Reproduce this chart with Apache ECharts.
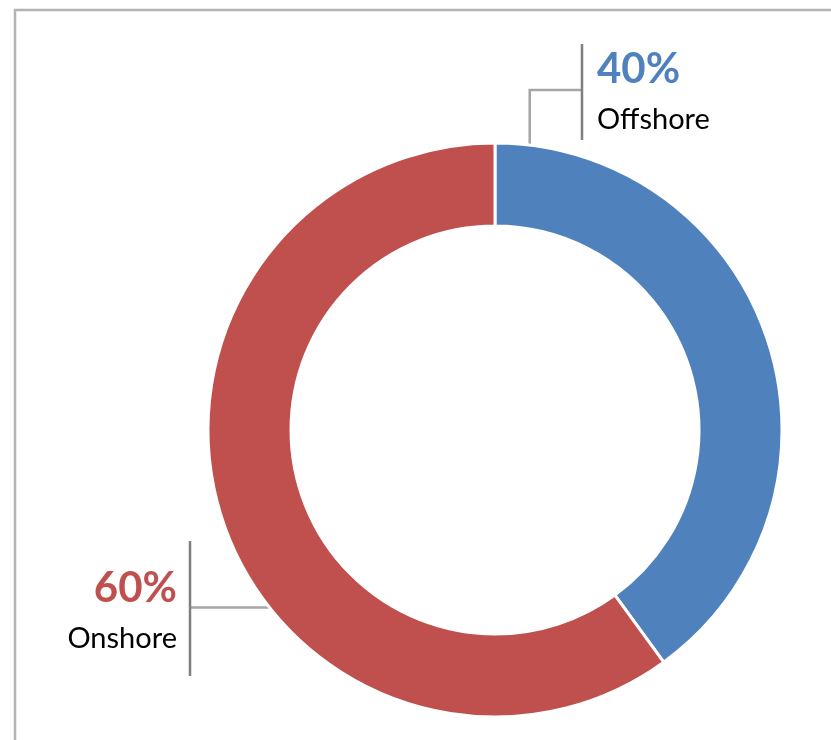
<!DOCTYPE html>
<html><head><meta charset="utf-8">
<script src="https://cdn.jsdelivr.net/npm/echarts@6/dist/echarts.min.js"></script>
<style>html,body{margin:0;padding:0;background:#fff}#c{width:831px;height:740px}</style>
</head><body><div id="c"></div>
<script>
const categories = ['Offshore', 'Onshore'];
const values = [40, 60];
const colors = ['#4f81bd', '#c0504d'];

const FONT = 'Lato, "Liberation Sans", sans-serif';
const CX = 495, CY = 430, R0 = 204, R1 = 287;
// label placement (layout only)
const labelCfg = [
  { anchorFrac: 0.05, anchorR: 277, bendY: 90, barX: 582, barTop: 44, barBot: 140, textX: 597, textY: 94.5, align: 'left' },
  { anchorFrac: 0.405, anchorR: 285, bendY: null, barX: 190, barTop: 541, barBot: 676, textX: 177, textY: 613.5, align: 'right' }
];

const total = values.reduce((a, b) => a + b, 0);
function anchorPoint(i) {
  let start = 0;
  for (let k = 0; k < i; k++) start += values[k] / total * 360;
  const ang = (start + labelCfg[i].anchorFrac * values[i] / total * 360) * Math.PI / 180;
  return [CX + labelCfg[i].anchorR * Math.sin(ang), CY - labelCfg[i].anchorR * Math.cos(ang)];
}

const chart = echarts.init(document.getElementById('c'), null, { renderer: 'canvas' });
const graphics = [
  { type: 'rect', shape: { x: 15, y: 10, width: 1000, height: 1000 }, style: { fill: null, stroke: '#b3b3b3', lineWidth: 2.5 }, silent: true }
];
labelCfg.forEach(c => {
  graphics.push({ type: 'line', shape: { x1: c.barX, y1: c.barTop, x2: c.barX, y2: c.barBot }, style: { stroke: '#7f7f7f', lineWidth: 2.5 }, z: 10 });
});

chart.setOption({
  backgroundColor: '#fff',
  animation: false,
  graphic: graphics,
  series: [{
    type: 'pie',
    center: [CX, CY],
    radius: [R0, R1],
    startAngle: 90,
    clockwise: true,
    avoidLabelOverlap: false,
    itemStyle: { borderColor: '#fff', borderWidth: 3 },
    data: categories.map((n, i) => ({ name: n, value: values[i], itemStyle: { color: colors[i] },
      label: { rich: { p: { color: colors[i] } } } })),
    label: {
      show: true,
      formatter: p => '{p|' + Math.round(p.percent) + '%}\n{n|' + p.name + '}',
      rich: {
        p: { fontFamily: FONT, fontWeight: 'bold', fontSize: 42, lineHeight: 51 },
        n: { fontFamily: FONT, fontSize: 29, lineHeight: 51, color: '#000' }
      }
    },
    labelLine: { show: true, lineStyle: { color: '#a6a6a6', width: 2.5 } },
    labelLayout: function (params) {
      const i = params.dataIndex;
      const c = labelCfg[i];
      const a = anchorPoint(i);
      let pts;
      if (c.bendY !== null) pts = [a, [a[0], c.bendY], [c.barX, c.bendY]];
      else pts = [a, [(a[0] + c.barX) / 2, a[1]], [c.barX, a[1]]];
      return { x: c.textX, y: c.textY, align: c.align, verticalAlign: 'middle', labelLinePoints: pts };
    }
  }]
});
</script></body></html>
